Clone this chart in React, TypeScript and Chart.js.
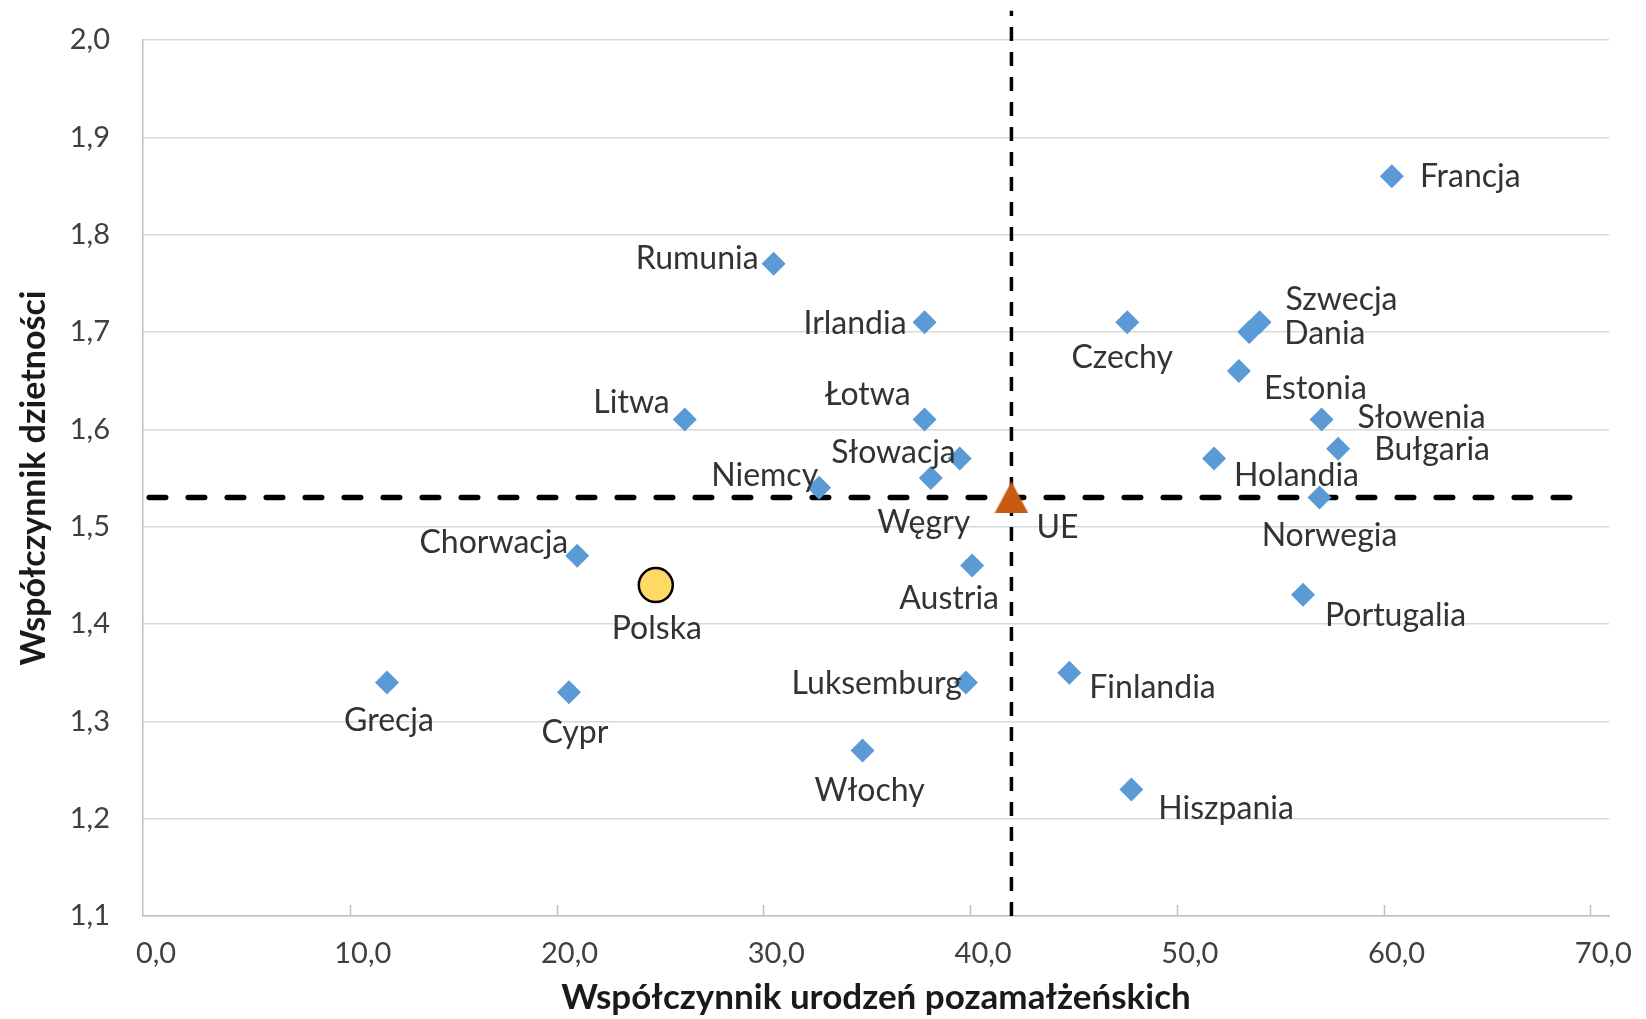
import React, { useEffect, useRef } from 'react';
import { Chart, registerables } from 'chart.js';

Chart.register(...registerables);

// ---------- data ----------
const countries = [
  'Francja', 'Rumunia', 'Irlandia', 'Czechy', 'Szwecja', 'Dania', 'Estonia',
  'Litwa', 'Łotwa', 'Słowenia', 'Bułgaria', 'Słowacja', 'Holandia', 'Węgry',
  'Niemcy', 'Norwegia', 'Chorwacja', 'Austria', 'Portugalia', 'Finlandia',
  'Luksemburg', 'Grecja', 'Cypr', 'Włochy', 'Hiszpania',
];
const nonMaritalBirths = [
  60.4, 30.5, 37.8, 47.6, 54.0, 53.5, 53.0,
  26.2, 37.8, 57.0, 57.8, 39.5, 51.8, 38.1,
  32.7, 56.9, 21.0, 40.1, 56.1, 44.8,
  39.8, 11.8, 20.6, 34.8, 47.8,
];
const fertilityRate = [
  1.86, 1.77, 1.71, 1.71, 1.71, 1.70, 1.66,
  1.61, 1.61, 1.61, 1.58, 1.57, 1.57, 1.55,
  1.54, 1.53, 1.47, 1.46, 1.43, 1.35,
  1.34, 1.34, 1.33, 1.27, 1.23,
];
const polandLabel = ['Polska'];
const polandX = [24.8];
const polandY = [1.44];
const euLabel = ['UE'];
const euX = [42.0];
const euY = [1.53];
// reference lines through the EU average
const euVerticalLineY = [1.1, 2.03];
const euHorizontalLineX = [0.3, 69.8];

const xTickValues = [0, 10, 20, 30, 40, 50, 60, 70];
const yTickValues = [1.1, 1.2, 1.3, 1.4, 1.5, 1.6, 1.7, 1.8, 1.9, 2.0];
const xTitle = 'Współczynnik urodzeń pozamałżeńskich';
const yTitle = 'Współczynnik dzietności';

// ---------- label layout (pixels relative to marker) ----------
type Place = { align: CanvasTextAlign; dx: number; dy: number };
const labelLayout: Record<string, Place> = {
  Francja: { align: 'left', dx: 28, dy: 0 },
  Rumunia: { align: 'right', dx: -15, dy: -5 },
  Irlandia: { align: 'right', dx: -18, dy: 1 },
  Czechy: { align: 'center', dx: -5, dy: 35 },
  Szwecja: { align: 'left', dx: 26, dy: -23 },
  Dania: { align: 'left', dx: 35, dy: 2 },
  Estonia: { align: 'left', dx: 25, dy: 18 },
  Litwa: { align: 'right', dx: -15, dy: -17 },
  'Łotwa': { align: 'right', dx: -14, dy: -25 },
  'Słowenia': { align: 'left', dx: 36, dy: -2 },
  'Bułgaria': { align: 'left', dx: 36, dy: 1 },
  'Słowacja': { align: 'right', dx: -4, dy: -6 },
  Holandia: { align: 'left', dx: 20, dy: 17 },
  'Węgry': { align: 'center', dx: -7, dy: 45 },
  Niemcy: { align: 'right', dx: -1, dy: -12 },
  Norwegia: { align: 'center', dx: 10, dy: 38 },
  Chorwacja: { align: 'right', dx: -9, dy: -13 },
  Austria: { align: 'center', dx: -23, dy: 33 },
  Portugalia: { align: 'left', dx: 22, dy: 21 },
  Finlandia: { align: 'left', dx: 20, dy: 15 },
  Luksemburg: { align: 'right', dx: -4, dy: 1 },
  Grecja: { align: 'center', dx: 2, dy: 38 },
  Cypr: { align: 'center', dx: 6, dy: 41 },
  'Włochy': { align: 'center', dx: 7, dy: 40 },
  Hiszpania: { align: 'left', dx: 27, dy: 19 },
  Polska: { align: 'center', dx: 1, dy: 44 },
  UE: { align: 'left', dx: 25, dy: 30 },
};

const FONT = 'Lato, "Noto Sans", sans-serif';
const fmt = (v: number) => v.toFixed(1).replace('.', ',');

function makeTriangle(): HTMLCanvasElement {
  const c = document.createElement('canvas');
  c.width = 34;
  c.height = 32;
  const g = c.getContext('2d')!;
  g.fillStyle = '#C55A11';
  g.beginPath();
  g.moveTo(17, 0);
  g.lineTo(34, 32);
  g.lineTo(0, 32);
  g.closePath();
  g.fill();
  return c;
}

const innerTicksPlugin = {
  id: 'innerTicks',
  beforeDatasetsDraw(chart: any) {
    const { ctx, scales } = chart;
    const x = scales.x;
    const bottom = chart.chartArea.bottom;
    ctx.save();
    ctx.strokeStyle = '#BFBFBF';
    ctx.lineWidth = 1.5;
    x.ticks.forEach((t: any) => {
      if (t.value <= 0) return;
      const px = Math.round(x.getPixelForValue(t.value)) + 0.5;
      ctx.beginPath();
      ctx.moveTo(px, bottom);
      ctx.lineTo(px, bottom - 11);
      ctx.stroke();
    });
    ctx.restore();
  },
};

const labelsPlugin = {
  id: 'pointLabels',
  afterDatasetsDraw(chart: any) {
    const { ctx } = chart;
    ctx.save();
    ctx.font = `32px ${FONT}`;
    ctx.fillStyle = '#333333';
    ctx.textBaseline = 'middle';
    chart.data.datasets.forEach((ds: any, i: number) => {
      if (!ds.labels) return;
      const meta = chart.getDatasetMeta(i);
      meta.data.forEach((el: any, j: number) => {
        const name = ds.labels[j];
        const p = labelLayout[name] || { align: 'left', dx: 15, dy: 0 };
        ctx.textAlign = p.align;
        ctx.fillText(name, el.x + p.dx, el.y + p.dy);
      });
    });
    ctx.restore();
  },
};

export default function App() {
  const ref = useRef<HTMLCanvasElement | null>(null);

  useEffect(() => {
    document.body.style.margin = '0';
    document.body.style.overflow = 'hidden';
    const canvas = ref.current!;
    const triangle = makeTriangle();

    const chart = new Chart(canvas, {
      type: 'scatter',
      data: {
        datasets: [
          {
            label: 'kraje',
            labels: countries,
            data: countries.map((_, i) => ({ x: nonMaritalBirths[i], y: fertilityRate[i] })),
            pointStyle: 'rectRot',
            pointRadius: 12,
            backgroundColor: '#5B9BD5',
            borderColor: '#5B9BD5',
            borderWidth: 0,
            order: 1,
          } as any,
          {
            label: 'Polska',
            labels: polandLabel,
            data: polandX.map((x, i) => ({ x, y: polandY[i] })),
            pointStyle: 'circle',
            pointRadius: 17,
            backgroundColor: '#FFD966',
            borderColor: '#000000',
            borderWidth: 2.5,
            order: 0,
          } as any,
          {
            label: 'UE',
            labels: euLabel,
            data: euX.map((x, i) => ({ x, y: euY[i] })),
            pointStyle: triangle,
            pointRadius: 17,
            order: 0,
          } as any,
          {
            label: 'UE pion',
            data: euVerticalLineY.map((y) => ({ x: euX[0], y })),
            showLine: true,
            pointRadius: 0,
            borderColor: '#000000',
            borderWidth: 3.5,
            borderDash: [14, 11],
            borderCapStyle: 'butt',
            clip: false,
            order: 5,
          } as any,
          {
            label: 'UE poziom',
            data: euHorizontalLineX.map((x) => ({ x, y: euY[0] })),
            showLine: true,
            pointRadius: 0,
            borderColor: '#000000',
            borderWidth: 5.5,
            borderDash: [16.5, 22.5],
            borderCapStyle: 'round',
            clip: false,
            order: 5,
          } as any,
        ],
      },
      options: {
        responsive: false,
        animation: false,
        devicePixelRatio: 1,
        layout: {
          autoPadding: false,
          padding: { left: 0, right: 37, top: 40, bottom: 0 },
        } as any,
        plugins: {
          legend: { display: false },
          tooltip: { enabled: false },
        },
        scales: {
          x: {
            type: 'linear',
            min: 0,
            max: 70.9,
            afterBuildTicks: (s: any) => {
              s.ticks = xTickValues.map((v) => ({ value: v }));
            },
            afterFit: (s: any) => {
              s.height = 103;
              s.paddingLeft = 0;
              s.paddingRight = 0;
            },
            grid: { display: false, drawTicks: false },
            border: { display: true, color: '#BFBFBF', width: 1.5 },
            ticks: {
              padding: 20,
              labelOffset: 13,
              maxRotation: 0,
              autoSkip: false,
              color: '#404040',
              font: { family: FONT, size: 29 },
              callback: (v: any) => fmt(Number(v)),
            },
            title: {
              display: true,
              text: xTitle,
              color: '#1a1a1a',
              font: { family: FONT, size: 35, weight: 'bold' },
              padding: { top: 0, bottom: 0 },
            },
          },
          y: {
            type: 'linear',
            min: 1.1,
            max: 2.0,
            afterBuildTicks: (s: any) => {
              s.ticks = yTickValues.map((v) => ({ value: v }));
            },
            afterFit: (s: any) => {
              s.width = 143;
              s.paddingTop = 0;
              s.paddingBottom = 0;
            },
            grid: { color: '#D9D9D9', lineWidth: 1.5, drawTicks: false },
            border: { display: true, color: '#BFBFBF', width: 1.5 },
            ticks: {
              padding: 33,
              autoSkip: false,
              color: '#404040',
              font: { family: FONT, size: 29 },
              callback: (v: any) => fmt(Number(v)),
            },
            title: {
              display: true,
              text: yTitle,
              color: '#1a1a1a',
              font: { family: FONT, size: 34, weight: 'bold' },
              padding: { top: 14, bottom: 0 },
            },
          },
        },
      } as any,
      plugins: [innerTicksPlugin, labelsPlugin],
    });

    return () => chart.destroy();
  }, []);

  return (
    <div style={{ width: 1646, height: 1019 }}>
      <canvas ref={ref} width={1646} height={1019} style={{ display: 'block' }} />
    </div>
  );
}
